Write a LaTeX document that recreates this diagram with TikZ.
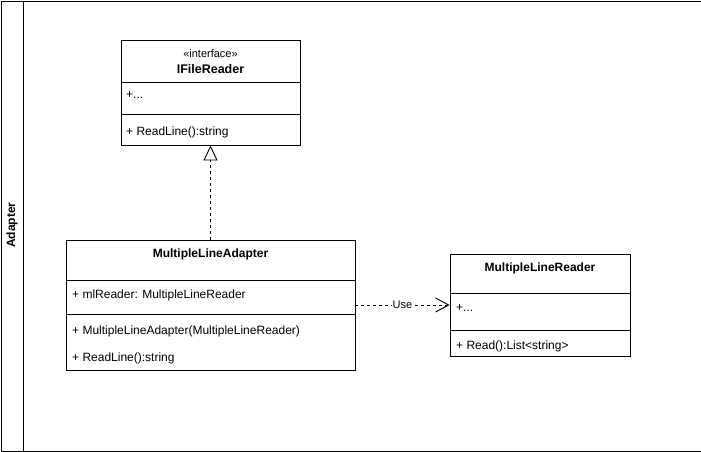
\documentclass[tikz,border=0pt]{standalone}
\usepackage{fontspec}
\setmainfont{Liberation Sans}
\usetikzlibrary{arrows.meta}
\tikzset{
  box/.style={draw, line width=0.9pt, rectangle, inner sep=0pt, fill=white},
  lbl/.style={inner sep=0pt, anchor=west, font=\fontsize{12}{14}\selectfont},
  ttl/.style={inner sep=0pt, anchor=center, font=\fontsize{12}{14}\selectfont\bfseries},
  sep/.style={line width=0.9pt},
  dashline/.style={line width=0.9pt, dash pattern=on 3pt off 3pt},
}
\begin{document}
\begin{tikzpicture}[x=1pt,y=-1pt]
\useasboundingbox (0,0) rectangle (701,451);
% frame
\node[box, minimum width=700pt, minimum height=450pt, anchor=north west] (frame) at (0.5,0.5) {};
\coordinate (sepT) at (23.5,0.5);
\coordinate (sepB) at (23.5,450.5);
\draw[sep] (sepT) -- (sepB);
\node[rotate=90, inner sep=0pt, font=\fontsize{12}{14}\selectfont\bfseries] (pool) at (12,225) {Adapter};

% IFileReader
\node[box, minimum width=179pt, minimum height=105pt] (ifr) at (210.5,92.5) {};
\node[inner sep=0pt, font=\fontsize{11}{13}\selectfont] (ifrst) at (210.5,54) {«interface»};
\node[inner sep=0pt, font=\fontsize{12.5}{14}\selectfont\bfseries] (ifrn) at (210.5,69) {IFileReader};
\coordinate (ifrd1a) at (121,82); \coordinate (ifrd1b) at (300,82);
\coordinate (ifrd2a) at (121,114); \coordinate (ifrd2b) at (300,114);
\draw[sep] (ifrd1a) -- (ifrd1b);
\draw[sep] (ifrd2a) -- (ifrd2b);
\node[lbl] (ifra) at (126,95.5) {+...};
\node[lbl] (ifrm) at (126,132.5) {+ ReadLine():string};

% MultipleLineAdapter
\node[box, minimum width=289pt, minimum height=130pt] (mla) at (210.5,305) {};
\node[ttl] (mlan) at (210.5,254.5) {MultipleLineAdapter};
\coordinate (mlad1a) at (66,280); \coordinate (mlad1b) at (355,280);
\coordinate (mlad2a) at (66,314); \coordinate (mlad2b) at (355,314);
\draw[sep] (mlad1a) -- (mlad1b);
\draw[sep] (mlad2a) -- (mlad2b);
\node[lbl] (mlaa) at (72,295.5) {+ mlReader: MultipleLineReader};
\node[lbl] (mlam1) at (72,331.5) {+ MultipleLineAdapter(MultipleLineReader)};
\node[lbl] (mlam2) at (72,358.5) {+ ReadLine():string};

% MultipleLineReader
\node[box, minimum width=180pt, minimum height=102pt] (mlr) at (540,305) {};
\node[ttl] (mlrn) at (540,268.5) {MultipleLineReader};
\coordinate (mlrd1a) at (450,293); \coordinate (mlrd1b) at (630,293);
\coordinate (mlrd2a) at (450,330); \coordinate (mlrd2b) at (630,330);
\draw[sep] (mlrd1a) -- (mlrd1b);
\draw[sep] (mlrd2a) -- (mlrd2b);
\node[lbl] (mlra) at (456,308.5) {+...};
\node[lbl] (mlrm) at (456,346.5) {+ Read():List<string>};

% realization
\draw[dashline, -{Triangle[open, length=15pt, width=14pt, line width=0.9pt]}] (mla.north) -- (ifr.south);
% use dependency
\draw[dashline, -{Straight Barb[length=13pt, width=14pt, line width=0.9pt]}] (mla.east) -- (mlr.west)
  node[midway, fill=white, inner sep=1pt, font=\fontsize{11}{13}\selectfont] (use) {Use};
\end{tikzpicture}
\end{document}
